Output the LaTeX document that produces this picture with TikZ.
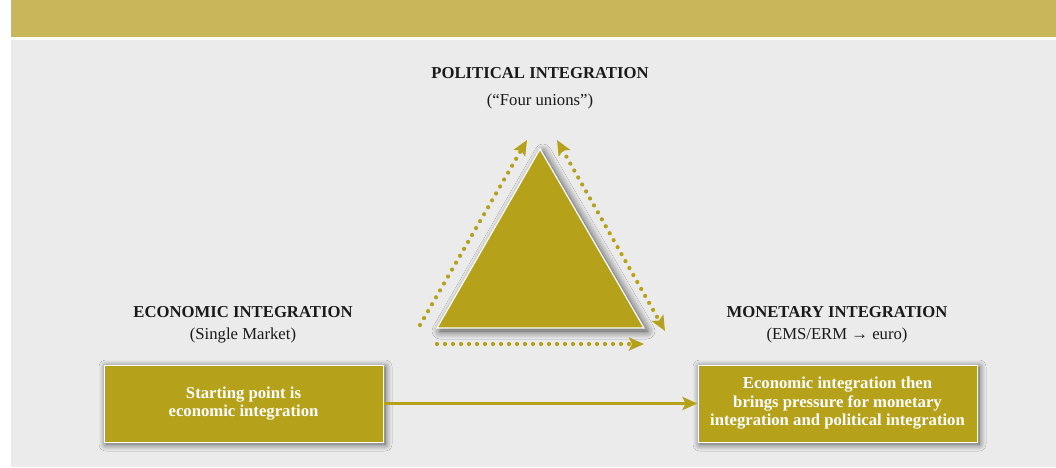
\documentclass[tikz,border=0pt]{standalone}
\usepackage{fontspec}
\setmainfont{Liberation Serif}
\usetikzlibrary{arrows.meta,shadows.blur}
\definecolor{gold}{HTML}{B5A11A}
\definecolor{banner}{HTML}{C9B65A}
\definecolor{panel}{HTML}{EBEBEB}
\definecolor{ink}{HTML}{1A1A1A}
\tikzset{
  head/.style={font=\fontsize{16.7}{19}\selectfont\bfseries, text=ink, inner sep=0pt},
  sub/.style={font=\fontsize{16.7}{19}\selectfont, text=ink, inner sep=0pt},
  goldbox/.style={draw=white, line width=1pt, fill=gold, minimum width=279pt, minimum height=77pt,
    align=center, text=white, font=\fontsize{16.7}{18.5}\selectfont\bfseries, inner sep=0pt,
    blur shadow={shadow xshift=2pt, shadow yshift=-2pt, shadow blur radius=7pt, shadow blur steps=20, shadow opacity=65}},
  dotarrow/.style={draw=gold, line width=4.2pt, line cap=round, dash pattern=on 0pt off 8pt},
  mainarrow/.style={draw=gold, line width=3pt, -{Stealth[length=15pt, width=13pt, inset=3pt]}}
}
\begin{document}
\begin{tikzpicture}[x=1pt, y=-1pt]
\useasboundingbox[fill=white] (0,0) rectangle (1056,467);
\fill[banner] (11,0) rectangle (1056,37);
\fill[panel] (11,40) rectangle (1056,467);

% titles
\node[head] (pol) at (540,73) {POLITICAL INTEGRATION};
\node[sub] (polsub) at (540,101) {(“Four unions”)};
\node[head] (eco) at (243,312) {ECONOMIC INTEGRATION};
\node[sub] (ecosub) at (243,335) {(Single Market)};
\node[head] (mon) at (837,312) {MONETARY INTEGRATION};
\node[sub] (monsub) at (837,335) {(EMS/ERM → euro)};

% triangle
\coordinate (apex) at (540,149);
\coordinate (bl) at (437,328);
\coordinate (br) at (644,328);
\path[fill=gold, draw=white, line width=1.2pt, line join=miter,
  blur shadow={shadow xshift=3pt, shadow yshift=-3pt, shadow blur radius=8pt, shadow blur steps=24, shadow opacity=70}]
  (apex) -- (bl) -- (br) -- cycle;

% dotted arrows
\coordinate (l1) at (420,325);
\coordinate (l2) at (527,140);
\coordinate (r1) at (557,140);
\coordinate (r2) at (665,331);
\coordinate (b1) at (437,344);
\coordinate (b2) at (644,344);
\draw[dotarrow, -{Stealth[length=15pt, width=13pt, inset=3pt]}] (l1) -- (l2);
\draw[dotarrow, {Stealth[length=15pt, width=13pt, inset=3pt]}-{Stealth[length=15pt, width=13pt, inset=3pt]}] (r1) -- (r2);
\draw[dotarrow, -{Stealth[length=15pt, width=13pt, inset=3pt]}] (b1) -- (b2);

% boxes
\node[goldbox] (start) at (243.5,403.5) {Starting point is\\economic integration};
\node[goldbox] (press) at (837.5,403.5) {Economic integration then\\brings pressure for monetary\\integration and political integration};
\draw[mainarrow] (start.east) -- (press.west);
\end{tikzpicture}
\end{document}
